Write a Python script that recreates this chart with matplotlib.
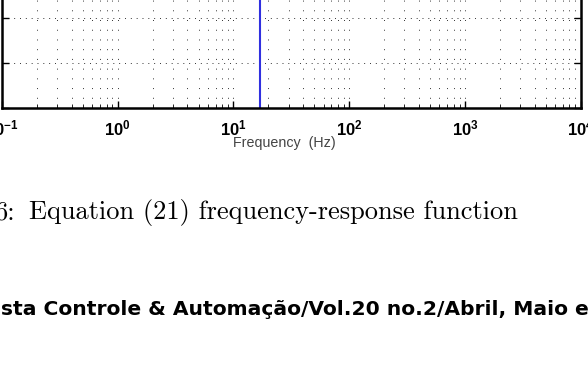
import numpy as np
import matplotlib
matplotlib.use("Agg")
import matplotlib.pyplot as plt
from matplotlib.ticker import FixedLocator, FuncFormatter, LogLocator, NullFormatter

resonance_hz = [16.8, 16.8]          # vertical jump of the response
response_deg = [-400.0, 200.0]       # runs past the visible y range
x_limits = (1e-1, 1e4)
y_limits = (-180, 0)
y_ticks = [-180, -135, -90, -45, 0]

caption_num = "6:"
caption = "Equation (21) frequency-response function"
journal = "sta Controle & Automação/Vol.20 no.2/Abril, Maio e"

W, H = 588, 368
fig = plt.figure(figsize=(W / 100, H / 100), dpi=100)

plt.rcParams['mathtext.fontset'] = 'custom'
plt.rcParams['mathtext.bf'] = 'Liberation Sans:bold'
plt.rcParams['mathtext.rm'] = 'Liberation Sans'

# axes: bottom spine at y=108 px, top runs off the page
left, right = 2, 580.7
bottom_px, top_px = 108, -72
ax = fig.add_axes([left / W, (H - bottom_px) / H, (right - left) / W, (bottom_px - top_px) / H])

ax.semilogx(resonance_hz, response_deg, color='#3030e0', linewidth=1.5)
ax.set_xlim(*x_limits)
ax.set_ylim(*y_limits)

ax.xaxis.set_major_locator(LogLocator(base=10, numticks=10))
ax.xaxis.set_minor_locator(LogLocator(base=10, subs=np.arange(2, 10), numticks=20))
ax.xaxis.set_minor_formatter(NullFormatter())
ax.xaxis.set_major_formatter(FuncFormatter(lambda v, p: r'$\mathbf{10^{%d}}$' % round(np.log10(v))))
ax.yaxis.set_major_locator(FixedLocator(y_ticks))

ax.tick_params(which='both', direction='in', top=True, right=True, labelleft=False)
ax.tick_params(which='major', length=5, width=1.0, labelsize=12, pad=8)
ax.tick_params(which='minor', length=3, width=0.6)

ax.grid(True, which='major', axis='y', color='#333333', linestyle=(0, (1, 5)), linewidth=0.7)
ax.grid(True, which='both', axis='x', color='#333333', linestyle=(0, (1, 9)), linewidth=0.7)

for s in ax.spines.values():
    s.set_linewidth(1.8)

ax.set_xlabel('Frequency  (Hz)', fontsize=10.3, color='#444444', family='Liberation Sans', va='center')
ax.xaxis.set_label_coords((284 - left) / (right - left), (bottom_px - 143) / (bottom_px - top_px))

# caption and journal footer from the page
fig.text(16 / W, (H - 219) / H, caption_num, family='cmr10', fontsize=19, va='baseline', ha='right')
fig.text(29 / W, (H - 219) / H, caption, family='cmr10', fontsize=19, va='baseline', ha='left')
fig.text(1 / W, (H - 315) / H, journal, family='DejaVu Sans', weight='bold', fontsize=14.6, va='baseline', ha='left')

fig.savefig('out.png', dpi=100)
